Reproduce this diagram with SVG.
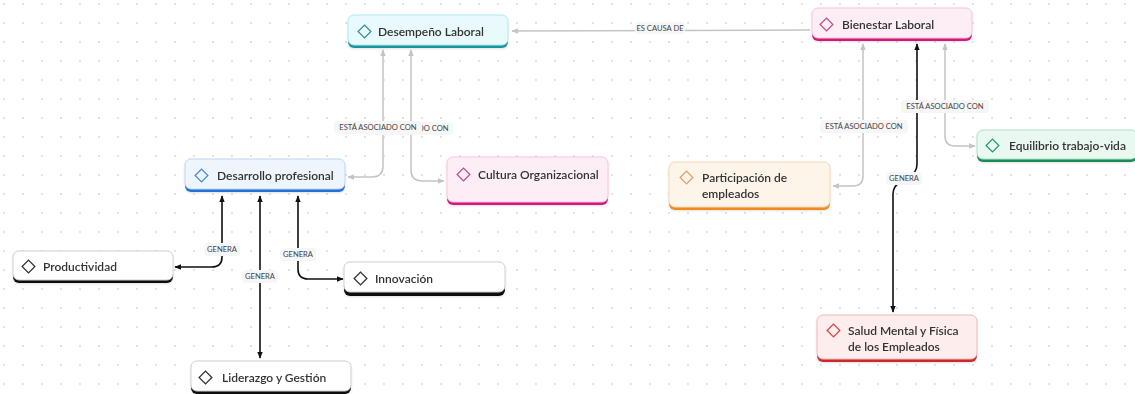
<svg xmlns="http://www.w3.org/2000/svg" width="1135" height="394" viewBox="0 0 1135 394">
<defs>
<pattern id="dots" x="3" y="3" width="19" height="19" patternUnits="userSpaceOnUse">
<circle cx="1" cy="1" r="0.9" fill="#d6d6d6"/>
</pattern>
<filter id="sh" x="-10%" y="-20%" width="120%" height="150%">
<feDropShadow dx="0" dy="1" stdDeviation="1.2" flood-color="#000" flood-opacity="0.12"/>
</filter>
<marker id="ag" viewBox="0 0 10 10" refX="9" refY="5" markerWidth="7" markerHeight="7" orient="auto-start-reverse" markerUnits="userSpaceOnUse">
<path d="M0,1 L10,5 L0,9 Z" fill="#c4c4c4"/>
</marker>
<marker id="ak" viewBox="0 0 10 10" refX="9" refY="5" markerWidth="7" markerHeight="7" orient="auto-start-reverse" markerUnits="userSpaceOnUse">
<path d="M0,1 L10,5 L0,9 Z" fill="#111"/>
</marker>
</defs>
<style>
.t{font-family:Lato,"Noto Sans",sans-serif;font-size:12px;fill:#333;font-weight:600}
.l{font-family:Lato,"Noto Sans",sans-serif;font-size:7.6px;fill:#444}
.lb{fill:#f6f6f6}
.g{fill:none;stroke:#c4c4c4;stroke-width:1.5}
.k{fill:none;stroke:#111;stroke-width:1.6}
.d{fill:none;stroke-width:1.3}
</style>
<rect width="1135" height="394" fill="#fff"/>
<rect width="1135" height="394" fill="url(#dots)"/>

<g id="connectors">
<path class="g" d="M810,30 L512,31" marker-end="url(#ag)"/>
<path class="g" d="M383,50 L383,166 Q383,177 372,177 L348,177" marker-start="url(#ag)" marker-end="url(#ag)"/>
<path class="g" d="M411,50 L411,170 Q411,181 422,181 L444,181" marker-start="url(#ag)" marker-end="url(#ag)"/>
<path class="g" d="M863,44 L863,176 Q863,186 853,186 L833,186" marker-start="url(#ag)" marker-end="url(#ag)"/>
<path class="g" d="M945,44 L945,136 Q945,146 955,146 L975,146" marker-start="url(#ag)" marker-end="url(#ag)"/>
<path class="k" d="M917,44 L917,164 Q917,172 910,176 L899,183 Q893,187 893,194 L893,312" marker-start="url(#ak)" marker-end="url(#ak)"/>
<path class="k" d="M222,196 L222,257 Q222,267 212,267 L175,267" marker-start="url(#ak)" marker-end="url(#ak)"/>
<path class="k" d="M260,196 L260,358" marker-start="url(#ak)" marker-end="url(#ak)"/>
<path class="k" d="M298,196 L298,269 Q298,279 308,279 L343,279" marker-start="url(#ak)" marker-end="url(#ak)"/>

<rect class="lb" x="635" y="22" width="50" height="12" rx="4"/>
<text class="l" x="660" y="31" text-anchor="middle">ES CAUSA DE</text>
<rect class="lb" x="367" y="122" width="86" height="13" rx="4"/>
<text class="l" x="410" y="131" text-anchor="middle">ESTÁ ASOCIADO CON</text>
<rect class="lb" x="334" y="121" width="88" height="13" rx="4"/>
<text class="l" x="378" y="130" text-anchor="middle">ESTÁ ASOCIADO CON</text>
<rect class="lb" x="820" y="120" width="88" height="13" rx="4"/>
<text class="l" x="864" y="129" text-anchor="middle">ESTÁ ASOCIADO CON</text>
<rect class="lb" x="901" y="100" width="88" height="13" rx="4"/>
<text class="l" x="945" y="109" text-anchor="middle">ESTÁ ASOCIADO CON</text>
<rect class="lb" x="886" y="172" width="36" height="13" rx="4"/>
<text class="l" x="904" y="181" text-anchor="middle">GENERA</text>
<rect class="lb" x="204" y="243" width="36" height="13" rx="4"/>
<text class="l" x="222" y="252" text-anchor="middle">GENERA</text>
<rect class="lb" x="242" y="270" width="36" height="13" rx="4"/>
<text class="l" x="260" y="279" text-anchor="middle">GENERA</text>
<rect class="lb" x="280" y="248" width="36" height="13" rx="4"/>
<text class="l" x="298" y="257" text-anchor="middle">GENERA</text>
</g>

<g id="desempeno" filter="url(#sh)">
<rect x="348" y="18" width="160" height="30" rx="6" fill="#17969c"/>
<rect x="348" y="15" width="160" height="30" rx="6" fill="#e8fafb" stroke="#b4e9ec"/>
<rect x="360" y="27" width="9" height="9" transform="rotate(45 364.5 31.5)" class="d" stroke="#3a8f96"/>
<text class="t" x="378" y="36">Desempeño Laboral</text>
</g>

<g id="bienestar" filter="url(#sh)">
<rect x="812" y="11" width="160" height="30" rx="6" fill="#d6197a"/>
<rect x="812" y="8" width="160" height="30" rx="6" fill="#fdeef6" stroke="#f5c4de"/>
<rect x="822" y="20" width="9" height="9" transform="rotate(45 826.5 24.5)" class="d" stroke="#c04f8f"/>
<text class="t" x="842" y="29">Bienestar Laboral</text>
</g>

<g id="desarrollo" filter="url(#sh)">
<rect x="185" y="162" width="160" height="30" rx="6" fill="#2372d8"/>
<rect x="185" y="159" width="160" height="30" rx="6" fill="#eef5fd" stroke="#bfd6f3"/>
<rect x="197" y="171" width="9" height="9" transform="rotate(45 201.5 175.5)" class="d" stroke="#4a8ad8"/>
<text class="t" x="217" y="180">Desarrollo profesional</text>
</g>

<g id="cultura" filter="url(#sh)">
<rect x="447" y="160" width="161" height="45" rx="6" fill="#d6197a"/>
<rect x="447" y="157" width="161" height="45" rx="6" fill="#fdeef6" stroke="#f5c4de"/>
<rect x="459" y="170" width="9" height="9" transform="rotate(45 463.5 174.5)" class="d" stroke="#c04f8f"/>
<text class="t" x="478" y="179">Cultura Organizacional</text>
</g>

<g id="participacion" filter="url(#sh)">
<rect x="669" y="165" width="161" height="45" rx="6" fill="#ef8a1c"/>
<rect x="669" y="162" width="161" height="45" rx="6" fill="#fdf4ea" stroke="#f4d8b8"/>
<rect x="682" y="173" width="9" height="9" transform="rotate(45 686.5 177.5)" class="d" stroke="#e8a060"/>
<text class="t" x="702" y="182">Participación de</text>
<text class="t" x="702" y="198">empleados</text>
</g>

<g id="equilibrio" filter="url(#sh)">
<rect x="977" y="133" width="160" height="29" rx="6" fill="#1c8a57"/>
<rect x="977" y="130" width="160" height="29" rx="6" fill="#e9f8f1" stroke="#b0e3ca"/>
<rect x="988" y="141" width="9" height="9" transform="rotate(45 992.5 145.5)" class="d" stroke="#2a9a6a"/>
<text class="t" x="1009" y="150">Equilibrio trabajo-vida</text>
</g>

<g id="productividad" filter="url(#sh)">
<rect x="13" y="254" width="160" height="29" rx="6" fill="#111"/>
<rect x="13" y="251" width="160" height="29" rx="6" fill="#fff" stroke="#d0d0d0"/>
<rect x="24" y="262" width="9" height="9" transform="rotate(45 28.5 266.5)" class="d" stroke="#333"/>
<text class="t" x="43" y="271">Productividad</text>
</g>

<g id="innovacion" filter="url(#sh)">
<rect x="344" y="266" width="161" height="30" rx="6" fill="#111"/>
<rect x="344" y="262" width="161" height="30" rx="6" fill="#fff" stroke="#d0d0d0"/>
<rect x="356" y="274" width="9" height="9" transform="rotate(45 360.5 278.5)" class="d" stroke="#333"/>
<text class="t" x="375" y="283">Innovación</text>
</g>

<g id="liderazgo" filter="url(#sh)">
<rect x="191" y="364" width="160" height="30" rx="6" fill="#111"/>
<rect x="191" y="361" width="160" height="30" rx="6" fill="#fff" stroke="#d0d0d0"/>
<rect x="201" y="373" width="9" height="9" transform="rotate(45 205.5 377.5)" class="d" stroke="#333"/>
<text class="t" x="222" y="382">Liderazgo y Gestión</text>
</g>

<g id="salud" filter="url(#sh)">
<rect x="817" y="318" width="160" height="44" rx="6" fill="#cc2a2a"/>
<rect x="817" y="315" width="160" height="44" rx="6" fill="#fdeded" stroke="#f0bcbc"/>
<rect x="829" y="326" width="9" height="9" transform="rotate(45 833.5 330.5)" class="d" stroke="#d04848"/>
<text class="t" x="848" y="335">Salud Mental y Física</text>
<text class="t" x="848" y="351">de los Empleados</text>
</g>
</svg>
